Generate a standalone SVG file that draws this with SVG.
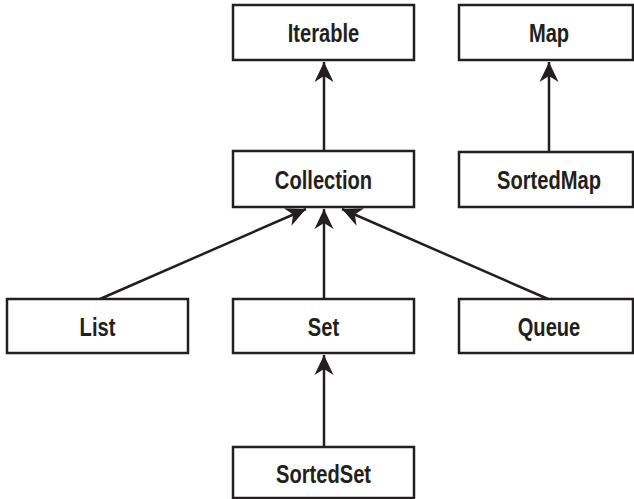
<svg xmlns="http://www.w3.org/2000/svg" width="634" height="499" viewBox="0 0 634 499">
<style>
.box{fill:#fff;stroke:#231f20;stroke-width:2.5}
.lbl{font-family:"Liberation Sans",Arial,sans-serif;font-weight:bold;font-size:26.5px;fill:#231f20;text-anchor:middle}
.edge{stroke:#231f20;stroke-width:2.5;fill:none;marker-end:url(#arr)}
</style>
<defs>
<marker id="arr" markerUnits="userSpaceOnUse" markerWidth="24" markerHeight="24" viewBox="-22 -12 24 24" refX="0" refY="0" orient="auto">
<path d="M0,0 L-20,-9.5 L-14,0 L-20,9.5 Z" fill="#231f20"/>
</marker>
</defs>
<rect width="634" height="499" fill="#fff"/>
<g id="edges">
<line class="edge" x1="324" y1="151" x2="324" y2="62"/>
<line class="edge" x1="549" y1="152" x2="549" y2="62"/>
<line class="edge" x1="100" y1="299" x2="306" y2="209"/>
<line class="edge" x1="324" y1="299" x2="324" y2="209"/>
<line class="edge" x1="548" y1="299" x2="342" y2="209"/>
<line class="edge" x1="324" y1="447" x2="324" y2="355"/>
</g>
<g id="Iterable"><rect class="box" x="233" y="5" width="181" height="55"/><text class="lbl" transform="translate(323.5,42) scale(0.76,1)">Iterable</text></g>
<g id="Map"><rect class="box" x="459" y="5" width="174" height="55"/><text class="lbl" transform="translate(549,42) scale(0.76,1)">Map</text></g>
<g id="Collection"><rect class="box" x="233" y="151" width="181" height="56"/><text class="lbl" transform="translate(323.5,189) scale(0.76,1)">Collection</text></g>
<g id="SortedMap"><rect class="box" x="459" y="152" width="174" height="55"/><text class="lbl" transform="translate(549,189) scale(0.76,1)">SortedMap</text></g>
<g id="List"><rect class="box" x="7" y="299" width="181" height="54"/><text class="lbl" transform="translate(97.5,336) scale(0.76,1)">List</text></g>
<g id="Set"><rect class="box" x="233" y="299" width="181" height="54"/><text class="lbl" transform="translate(323.5,336) scale(0.76,1)">Set</text></g>
<g id="Queue"><rect class="box" x="459" y="299" width="174" height="54"/><text class="lbl" transform="translate(549,336) scale(0.76,1)">Queue</text></g>
<g id="SortedSet"><rect class="box" x="233" y="447" width="181" height="51"/><text class="lbl" transform="translate(323.5,483) scale(0.76,1)">SortedSet</text></g>
</svg>
